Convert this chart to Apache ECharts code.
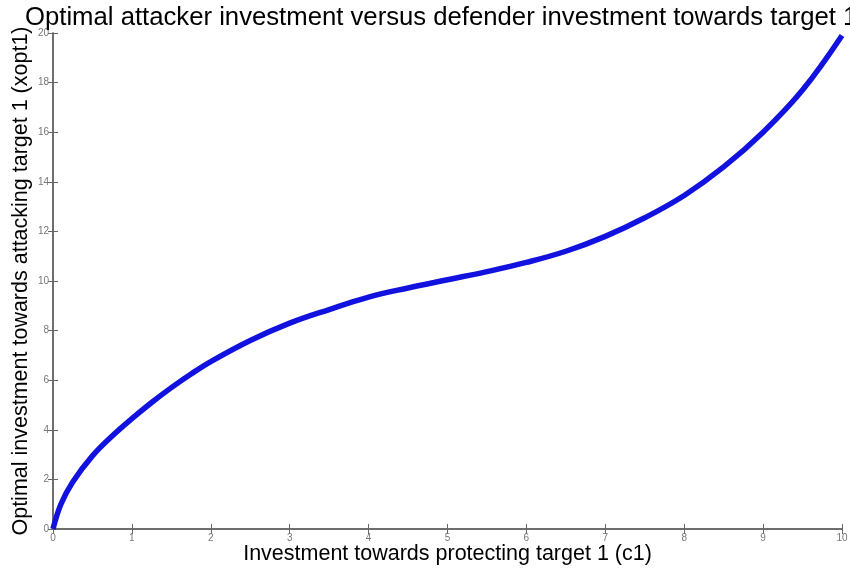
<!DOCTYPE html>
<html>
<head>
<meta charset="utf-8">
<script src="https://cdn.jsdelivr.net/npm/echarts@6/dist/echarts.min.js"></script>
<style>
html, body { margin: 0; padding: 0; background: #fff; }
#chart { width: 850px; height: 573px; }
</style>
</head>
<body>
<div id="chart"></div>
<script>
// values
var c1 = [0, 0.1, 0.25, 0.5, 0.75, 1, 1.25, 1.5, 1.75, 2, 2.5, 3, 3.5, 4, 4.5, 5, 5.5, 6, 6.5, 7, 7.5, 8, 8.5, 9, 9.5, 10];
var xopt1 = [0, 1.0, 1.9, 2.95, 3.75, 4.45, 5.1, 5.7, 6.25, 6.75, 7.6, 8.3, 8.85, 9.35, 9.72, 10.05, 10.38, 10.75, 11.2, 11.8, 12.55, 13.45, 14.6, 16.0, 17.7, 19.9];

var points = [];
for (var i = 0; i < c1.length; i++) {
    points.push([c1[i], xopt1[i]]);
}

var axisGray = '#666';
var font = 'Liberation Sans, Arial, sans-serif';

var myChart = echarts.init(document.getElementById('chart'));

var option = {
    animation: false,
    title: {
        text: 'Optimal attacker investment versus defender investment towards target 1',
        left: 20,
        top: 0,
        textStyle: { fontFamily: font, fontSize: 25.7, fontWeight: 'normal', color: '#000' }
    },
    grid: { left: 53, right: 8, top: 33, bottom: 44, outerBoundsMode: 'none' },
    xAxis: [{
        type: 'value',
        min: 0, max: 10, interval: 1,
        name: 'Investment towards protecting target 1 (c1)',
        nameLocation: 'middle',
        nameGap: 14,
        nameMoveOverlap: false,
        nameTextStyle: { fontFamily: font, fontSize: 21.5, color: '#000' },
        axisLine: { lineStyle: { color: axisGray, width: 1.5 } },
        axisTick: { inside: true, length: 5, lineStyle: { color: axisGray } },
        axisLabel: { fontFamily: font, fontSize: 10, color: '#777', margin: 4 },
        splitLine: { show: false }
    }, {
        type: 'value',
        position: 'top',
        min: 0, max: 10, interval: 1,
        axisLine: { show: true, lineStyle: { color: axisGray, width: 1.5 } },
        axisTick: { inside: true, length: 5, lineStyle: { color: axisGray } },
        axisLabel: { show: false },
        splitLine: { show: false }
    }],
    yAxis: [{
        type: 'value',
        min: 0, max: 20, interval: 2,
        name: 'Optimal investment towards attacking target 1 (xopt1)',
        nameLocation: 'middle',
        nameGap: 21,
        nameMoveOverlap: false,
        nameTextStyle: { fontFamily: font, fontSize: 21.5, color: '#000' },
        axisLine: { show: true, lineStyle: { color: axisGray, width: 1.5 } },
        axisTick: { show: true, inside: true, length: 5, lineStyle: { color: axisGray } },
        axisLabel: { fontFamily: font, fontSize: 10, color: '#777', margin: 4 },
        splitLine: { show: false }
    }, {
        type: 'value',
        position: 'right',
        min: 0, max: 20, interval: 2,
        axisLine: { show: true, lineStyle: { color: axisGray, width: 1.5 } },
        axisTick: { show: true, inside: true, length: 5, lineStyle: { color: axisGray } },
        axisLabel: { show: false },
        splitLine: { show: false }
    }],
    series: [{
        type: 'line',
        data: points,
        smooth: 0.4,
        showSymbol: false,
        clip: false,
        lineStyle: { color: '#1212e0', width: 5.5 }
    }]
};

myChart.setOption(option);
</script>
</body>
</html>
